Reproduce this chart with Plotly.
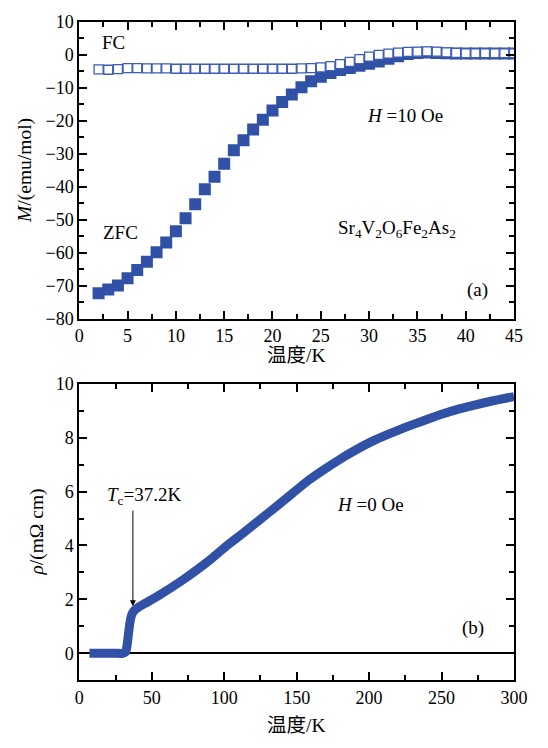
import plotly.graph_objects as go

# ---- Panel (a): magnetization ----
zfc_T = [2, 3, 4, 5, 6, 7, 8, 9, 10, 11, 12, 13, 14, 15, 16, 17, 18, 19, 20, 21, 22, 23,
         24, 25, 26, 27, 28, 29, 30, 31, 32, 33, 34, 35, 36, 37, 38, 39, 40, 41, 42, 43, 44, 45]
zfc_M = [-72.3, -71.2, -70.0, -67.8, -65.3, -62.8, -59.9, -56.9, -53.5, -49.6, -45.3, -40.8,
         -37.0, -33.0, -28.9, -25.9, -22.6, -19.7, -16.9, -14.3, -12.0, -9.8, -8.0, -6.6,
         -5.5, -4.6, -4.0, -3.3, -2.7, -2.0, -1.2, -0.4, 0.3, 0.6, 0.7, 0.6, 0.5, 0.4, 0.4,
         0.4, 0.4, 0.4, 0.4, 0.4]

fc_T = list(range(2, 46))
fc_M = [-4.4, -4.5, -4.3, -4.0, -4.0, -4.1, -4.1, -4.1, -4.2, -4.2, -4.2, -4.2, -4.2, -4.2,
        -4.2, -4.2, -4.2, -4.2, -4.2, -4.2, -4.2, -4.1, -4.0, -3.8, -3.4, -2.8, -2.1, -1.3,
        -0.5, 0.0, 0.4, 0.7, 0.9, 1.0, 1.1, 1.0, 0.8, 0.6, 0.5, 0.5, 0.5, 0.5, 0.5, 0.5]

# ---- Panel (b): resistivity ----
rho_T = [7, 15, 25, 30, 32, 33, 34, 35, 36, 37.5, 40, 45, 55, 69.5, 80, 91.6, 102, 113.8,
         125, 136, 147, 158, 169, 180, 191, 202, 213, 225, 237, 249, 261, 272, 284, 295, 300]
rho_v = [0, 0, 0, 0, 0.05, 0.3, 0.75, 1.15, 1.4, 1.56, 1.68, 1.84, 2.15, 2.65, 3.05, 3.53,
         4.0, 4.49, 4.97, 5.45, 5.93, 6.41, 6.82, 7.2, 7.55, 7.86, 8.12, 8.38, 8.62, 8.85,
         9.05, 9.2, 9.35, 9.47, 9.52]

BLUE = "#3151a6"
FONT = "Liberation Serif, Noto Sans CJK SC, serif"
TICK_FS = 18
TXT_FS = 19
TITLE_FS = 19.5

W, H = 548, 748

fig = go.Figure()
fig.add_trace(go.Scatter(x=zfc_T, y=zfc_M, mode="markers", xaxis="x", yaxis="y",
                         marker=dict(symbol="square", size=12, color=BLUE, line=dict(width=0)),
                         showlegend=False))
fig.add_trace(go.Scatter(x=fc_T, y=fc_M, mode="markers", xaxis="x", yaxis="y",
                         marker=dict(symbol="square", size=9, color="white",
                                     line=dict(width=1.3, color="#3d5cb4")),
                         showlegend=False))
fig.add_trace(go.Scatter(x=rho_T, y=rho_v, mode="lines", xaxis="x2", yaxis="y2",
                         line=dict(color=BLUE, width=9, shape="spline", smoothing=0.5),
                         showlegend=False))


def px(xp):
    return xp / W


def py(yp):
    return 1 - yp / H


axis_common = dict(showline=True, linecolor="black", linewidth=2, mirror="allticks",
                   ticks="inside", ticklen=8, tickwidth=1.8, tickcolor="black",
                   showgrid=False, zeroline=False,
                   tickfont=dict(family=FONT, size=TICK_FS, color="black"))


def minor(d):
    return dict(dtick=d, ticklen=5, tickwidth=1.8, ticks="inside", tickcolor="black")


xd = [px(76.8), px(526.3)]
fig.update_layout(
    width=W, height=H,
    margin=dict(l=0, r=0, t=0, b=0),
    paper_bgcolor="white", plot_bgcolor="white",
    font=dict(family=FONT, size=TXT_FS, color="black"),
    xaxis=dict(domain=xd, anchor="y", range=[0, 45], dtick=5, minor=minor(2.5), **axis_common),
    yaxis=dict(domain=[py(317), py(12.3)], anchor="x", range=[-80, 10], dtick=10,
               minor=minor(5), **axis_common),
    xaxis2=dict(domain=xd, anchor="y2", range=[0, 300], dtick=50, minor=minor(25),
                **axis_common),
    yaxis2=dict(domain=[py(688.7), py(384)], anchor="x2", range=[-1, 10], dtick=2, tick0=0,
                minor=minor(1), **axis_common),
)
fig.layout.yaxis2.update(zeroline=True, zerolinecolor="black", zerolinewidth=1.8)

ann = []
# axis titles
ann.append(dict(text="<i>M</i>/(emu/mol)", x=px(20), y=py(165), textangle=-90, size=TITLE_FS))
ann.append(dict(text="温度/K", x=px(301), y=py(355), size=TITLE_FS))
ann.append(dict(text="<i>ρ</i>/(mΩ cm)", x=px(33), y=py(536), textangle=-90, size=TITLE_FS))
ann.append(dict(text="温度/K", x=px(301), y=py(735), size=TITLE_FS))
# panel a labels
ann.append(dict(text="FC", x=px(112), y=py(33)))
ann.append(dict(text="ZFC", x=px(119), y=py(229)))
ann.append(dict(text="<i>H</i> =10 Oe", x=px(414), y=py(108)))
ann.append(dict(text="Sr<sub>4</sub>V<sub>2</sub>O<sub>6</sub>Fe<sub>2</sub>As<sub>2</sub>",
                x=px(405), y=py(225)))
ann.append(dict(text="(a)", x=px(489), y=py(288)))
# panel b labels
ann.append(dict(text="<i>T</i><sub>c</sub>=37.2K", x=px(144), y=py(499)))
ann.append(dict(text="<i>H</i> =0 Oe", x=px(378), y=py(508)))
ann.append(dict(text="(b)", x=px(484), y=py(635)))

annotations = []
for a in ann:
    size = a.pop("size", TXT_FS)
    d = dict(xref="paper", yref="paper", showarrow=False, xanchor="center", yanchor="middle",
             font=dict(family=FONT, size=size, color="black"))
    d.update(a)
    annotations.append(d)

# Tc arrow
annotations.append(dict(x=37, y=1.75, xref="x2", yref="y2", ax=37, ay=5.35,
                        axref="x2", ayref="y2", text="", showarrow=True,
                        arrowhead=2, arrowsize=1.2, arrowwidth=1, arrowcolor="black"))
fig.update_layout(annotations=annotations)

fig.write_html("out.html")
